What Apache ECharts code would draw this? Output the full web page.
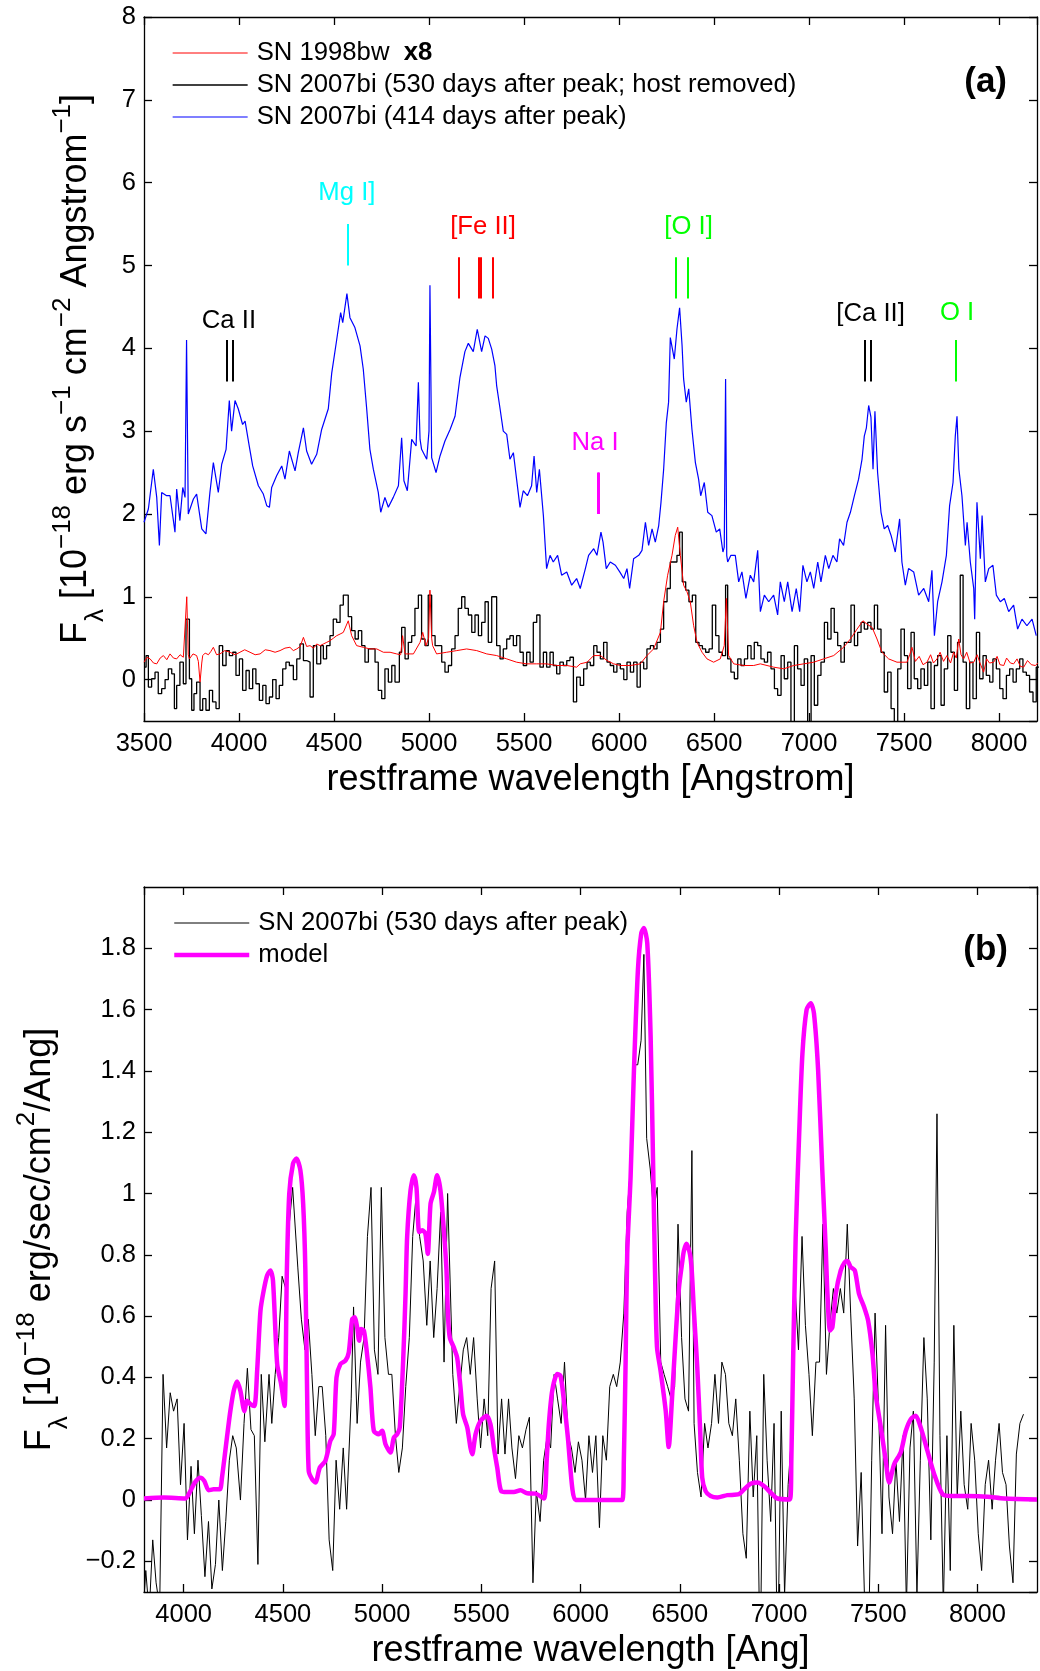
<!DOCTYPE html>
<html><head><meta charset="utf-8">
<script src="https://cdn.jsdelivr.net/npm/echarts@6/dist/echarts.min.js"></script>
<style>html,body{margin:0;padding:0;background:#fff}#c{width:1040px;height:1671px}</style>
</head><body><div id="c"></div>
<script>
const FONT = 'Liberation Sans, Arial, Helvetica, sans-serif';

// ---------- Panel (a): SN 2007bi, 414 days (blue) ----------
const blueWave = [3500,3523,3549,3567,3581,3593,3619,3637,3663,3672,3689,3704,3716,3724,3733,3742,3760,3777,3804,3826,3847,3865,3891,3909,3932,3949,3961,3979,3996,4019,4032,4054,4072,4102,4128,4146,4160,4172,4198,4225,4242,4265,4295,4312,4339,4356,4382,4409,4435,4470,4488,4514,4535,4546,4568,4584,4610,4637,4654,4672,4689,4707,4733,4746,4768,4786,4812,4839,4856,4868,4886,4909,4932,4944,4953,4961,4988,5000,5005,5014,5037,5058,5084,5111,5137,5163,5189,5207,5233,5254,5277,5295,5312,5330,5347,5356,5374,5391,5409,5426,5444,5461,5479,5496,5518,5540,5553,5567,5581,5602,5619,5637,5654,5677,5698,5725,5751,5777,5796,5823,5840,5867,5884,5905,5916,5933,5954,5981,6004,6025,6042,6056,6077,6104,6121,6139,6156,6174,6191,6209,6221,6235,6249,6261,6270,6291,6305,6319,6332,6340,6354,6367,6384,6402,6419,6430,6449,6467,6489,6512,6530,6547,6554,6561,6567,6572,6589,6612,6630,6647,6668,6691,6709,6730,6744,6765,6788,6814,6835,6849,6870,6888,6911,6933,6951,6968,6989,7007,7025,7046,7063,7086,7104,7126,7147,7161,7182,7200,7218,7239,7261,7279,7291,7302,7314,7326,7337,7347,7361,7379,7396,7414,7432,7454,7477,7489,7507,7524,7551,7577,7604,7630,7647,7660,7677,7700,7723,7740,7758,7770,7779,7789,7805,7823,7832,7849,7867,7872,7884,7902,7911,7928,7946,7968,7986,8007,8028,8051,8077,8098,8121,8147,8174,8196];
const blueFlux = [1.9,2.06,2.54,2.2,1.62,2.26,2.22,2.22,1.78,2.3,1.92,2.32,2.2,4.1,2.0,2.02,2.18,2.24,1.82,1.76,2.26,2.62,2.26,2.6,2.78,3.37,3.0,3.37,3.27,3.08,3.12,2.82,2.58,2.34,2.24,2.1,2.08,2.32,2.46,2.58,2.42,2.76,2.52,2.74,3.04,2.76,2.6,2.72,3.02,3.27,3.7,4.1,4.43,4.31,4.66,4.37,4.25,4.03,3.75,3.27,2.78,2.54,2.26,2.02,2.2,2.08,2.2,2.34,2.92,2.4,2.28,2.9,2.82,3.59,2.9,2.78,2.66,3.0,4.76,2.68,2.5,2.7,2.88,3.02,3.18,3.65,3.96,4.06,3.96,4.23,3.96,4.15,4.12,3.99,3.79,3.55,3.27,3.0,2.96,2.66,2.74,2.42,2.08,2.28,2.22,2.34,2.7,2.26,2.54,1.98,1.34,1.5,1.42,1.5,1.26,1.3,1.14,1.22,1.1,1.34,1.5,1.58,1.5,1.78,1.66,1.34,1.42,1.38,1.3,1.22,1.34,1.1,1.46,1.5,1.56,1.9,1.62,1.82,1.66,1.86,2.14,2.54,3.1,3.35,4.13,3.87,4.23,4.49,4.03,3.63,3.35,3.51,3.02,2.62,2.42,2.22,2.38,2.02,1.98,1.78,1.82,1.54,1.6,3.63,1.5,1.42,1.5,1.5,1.18,1.3,0.98,1.26,1.18,1.56,0.82,1.02,0.94,1.02,0.78,1.18,0.94,1.18,0.82,1.1,0.82,1.38,1.18,1.3,1.1,1.42,1.18,1.5,1.34,1.5,1.42,1.7,1.62,1.9,2.02,2.22,2.42,2.66,2.94,3.04,3.31,3.17,2.54,3.24,2.5,2.02,1.82,1.86,1.74,1.54,1.94,1.42,1.14,1.34,1.3,1.02,1.1,0.94,1.32,0.53,0.94,1.18,1.5,2.1,2.38,2.94,3.18,2.54,2.22,1.62,1.9,1.42,1.1,0.73,2.14,1.46,1.98,1.18,1.34,1.38,1.02,0.94,0.98,0.82,0.9,0.61,0.73,0.65,0.73,0.53];

// ---------- SN 1998bw x8 (red) ----------
const redWave = [3500,3516,3532,3550,3567,3585,3602,3620,3637,3655,3672,3690,3707,3725,3733,3739,3758,3777,3786,3795,3804,3809,3822,3839,3852,3865,3882,3900,3925,3953,3980,4005,4030,4058,4085,4111,4138,4163,4190,4216,4242,4268,4286,4304,4322,4339,4356,4374,4392,4409,4427,4444,4462,4479,4497,4514,4532,4549,4575,4593,4619,4654,4689,4725,4760,4795,4830,4851,4861,4874,4918,4953,4967,4984,4998,5005,5014,5019,5040,5093,5146,5198,5251,5304,5356,5409,5461,5514,5567,5619,5672,5725,5777,5796,5832,5867,5902,5937,5972,6007,6060,6112,6147,6182,6218,6235,6256,6279,6296,6309,6323,6340,6358,6375,6393,6411,6437,6463,6498,6533,6554,6565,6577,6604,6656,6709,6744,6779,6814,6867,6919,6972,7025,7077,7130,7182,7218,7253,7284,7305,7332,7358,7384,7419,7463,7516,7530,7542,7560,7580,7600,7621,7640,7655,7674,7690,7708,7726,7745,7761,7775,7788,7800,7814,7830,7848,7867,7885,7900,7919,7935,7950,7972,7990,8005,8025,8040,8060,8077,8095,8112,8130,8150,8170,8191,8205];
const redFlux = [0.21,0.27,0.25,0.2,0.19,0.26,0.29,0.24,0.31,0.26,0.25,0.3,0.27,1.0,0.3,0.25,0.31,0.29,0.22,-0.03,0.2,0.29,0.32,0.3,0.34,0.39,0.3,0.31,0.35,0.33,0.3,0.33,0.36,0.33,0.3,0.31,0.36,0.35,0.33,0.35,0.38,0.39,0.35,0.37,0.4,0.51,0.4,0.41,0.38,0.43,0.41,0.43,0.45,0.47,0.5,0.53,0.55,0.57,0.71,0.53,0.41,0.39,0.37,0.37,0.33,0.33,0.31,0.3,0.53,0.31,0.31,0.45,0.57,0.41,0.5,1.08,0.5,0.41,0.31,0.33,0.35,0.37,0.35,0.31,0.29,0.25,0.21,0.19,0.19,0.19,0.17,0.17,0.15,0.19,0.21,0.29,0.29,0.23,0.19,0.17,0.17,0.19,0.29,0.37,0.57,0.94,1.26,1.5,1.74,1.84,1.5,1.14,1.06,0.94,0.65,0.45,0.33,0.25,0.21,0.25,0.41,0.98,0.29,0.19,0.17,0.17,0.19,0.17,0.15,0.13,0.17,0.19,0.21,0.25,0.29,0.39,0.49,0.61,0.71,0.67,0.63,0.49,0.33,0.25,0.21,0.21,0.3,0.39,0.22,0.28,0.18,0.21,0.3,0.2,0.25,0.33,0.22,0.29,0.2,0.33,0.26,0.49,0.3,0.25,0.33,0.2,0.21,0.3,0.2,0.09,0.25,0.2,0.21,0.28,0.18,0.17,0.26,0.2,0.19,0.25,0.16,0.15,0.23,0.18,0.17,0.2];

// ---------- SN 2007bi, 530 days (black; binned) ----------
const blackWave = [3500,3511,3523,3540,3558,3575,3593,3611,3628,3646,3660,3672,3689,3707,3721,3739,3751,3763,3777,3795,3809,3826,3844,3861,3879,3896,3914,3932,3949,3967,3984,4002,4019,4037,4054,4072,4089,4107,4125,4142,4160,4177,4195,4212,4230,4247,4265,4286,4304,4321,4339,4356,4374,4391,4409,4430,4444,4461,4479,4496,4514,4532,4549,4575,4593,4611,4628,4646,4663,4681,4698,4716,4733,4751,4768,4786,4804,4821,4844,4856,4874,4891,4909,4926,4944,4961,4979,4996,5014,5032,5049,5067,5084,5102,5119,5137,5154,5172,5189,5207,5225,5242,5260,5277,5295,5312,5330,5356,5374,5391,5409,5426,5444,5461,5479,5496,5514,5532,5549,5567,5584,5602,5619,5637,5654,5672,5689,5707,5725,5742,5760,5777,5796,5814,5832,5849,5867,5884,5902,5919,5937,5954,5972,5989,6007,6025,6042,6060,6077,6095,6112,6130,6147,6165,6182,6200,6218,6235,6253,6270,6288,6305,6319,6333,6351,6368,6386,6404,6421,6439,6456,6474,6491,6509,6526,6544,6561,6572,6589,6607,6625,6642,6660,6677,6695,6712,6730,6747,6765,6782,6800,6818,6835,6853,6870,6888,6905,6923,6940,6958,6975,6993,7011,7028,7046,7063,7081,7098,7116,7133,7151,7168,7186,7204,7221,7239,7256,7274,7291,7309,7326,7344,7361,7379,7396,7414,7432,7449,7467,7484,7502,7519,7537,7554,7572,7589,7607,7625,7642,7660,7677,7695,7712,7730,7747,7765,7782,7796,7811,7828,7846,7863,7881,7898,7916,7933,7951,7968,7986,8004,8021,8039,8056,8074,8091,8109,8126,8144,8161,8179,8196,8214,8232];
const blackFlux = [0.15,0.29,-0.09,0.01,0.09,-0.17,-0.11,0,0.13,0.07,-0.35,-0.07,0.21,-0.05,0.73,0.01,-0.37,-0.17,-0.03,-0.37,-0.23,-0.37,-0.13,-0.27,-0.35,0.41,0.17,0.35,0.29,0.33,0.05,0.25,-0.13,0.11,-0.11,0.13,-0.05,-0.25,-0.07,-0.29,-0.21,0,-0.23,-0.07,0.13,0.21,0.17,0,0.25,0.43,0.23,0.21,-0.21,0.41,0.19,0.41,0.25,0.41,0.53,0.73,0.69,0.9,1.02,0.76,0.59,0.49,0.59,0.41,0.21,0.37,0.37,0.21,-0.13,-0.23,0.13,-0.03,0.17,-0.03,0.33,0.63,0.25,0.45,0.53,0.86,1.02,0.49,0.41,1.02,0.53,0.41,0.41,0.21,0.09,0.17,0.37,0.53,0.86,1.0,0.86,0.78,0.57,0.78,0.53,0.69,0.94,0.45,1.0,0.41,0.25,0.37,0.49,0.53,0.41,0.53,0.33,0.17,0.33,0.21,0.69,0.78,0.15,0.33,0.15,0.33,0.17,0.07,0.21,0.17,0.23,0.27,-0.27,0.03,-0.07,0.13,0.21,0.17,0.41,0.33,0.25,0.45,0.21,0.17,0.09,0.19,0.13,0,0.21,0.09,0.21,-0.09,0.21,0.13,0.37,0.41,0.37,0.45,0.61,0.94,1.1,1.42,1.42,1.5,1.78,1.18,1.08,0.94,1.02,0.45,0.41,0.37,0.33,0.37,0.9,0.53,0.33,0.29,1.14,0.25,0.09,0.01,0.25,0.17,0.25,0.41,0.25,0.45,0.41,0.25,0.21,0.33,0.13,-0.11,-0.19,0.29,0.01,0.21,-0.55,0.41,0.13,-0.07,0.25,-0.55,0.29,-0.31,0.05,0.21,0.69,0.49,0.86,0.57,0.41,0.21,0.45,0.45,0.9,0.41,0.57,0.69,0.61,0.69,0.61,0.9,0.61,0.33,-0.15,0.09,-0.35,-0.55,0.13,0.61,0.29,-0.11,0.57,0.01,-0.11,0.13,-0.07,0.21,-0.35,0.17,0.29,-0.31,0.13,0.53,0.33,-0.13,0.45,1.26,0.21,-0.35,0.21,-0.23,0.57,0.01,0.29,0.05,-0.03,0.25,0.13,-0.11,-0.23,0.05,0.13,-0.03,0.13,0.25,0.09,0.05,-0.15,-0.27,0.15,0.25,0.28];

// ---------- Panel (b): model (magenta) ----------
const modelWave = [3800,3900,4008,4034,4059,4084,4104,4126,4151,4182,4193,4218,4235,4252,4269,4286,4306,4319,4336,4356,4370,4387,4403,4420,4437,4450,4471,4491,4508,4520,4532,4551,4568,4588,4602,4613,4622,4630,4647,4664,4686,4714,4739,4756,4770,4790,4815,4832,4849,4861,4874,4884,4894,4908,4924,4941,4958,4983,5000,5017,5042,5059,5076,5089,5106,5118,5126,5143,5160,5173,5187,5202,5218,5230,5244,5261,5277,5294,5311,5324,5332,5341,5361,5378,5395,5408,5429,5445,5454,5471,5496,5526,5546,5563,5580,5600,5630,5664,5697,5731,5773,5815,5829,5840,5857,5882,5899,5916,5936,5958,5975,6050,6210,6218,6227,6235,6252,6269,6289,6306,6319,6336,6353,6366,6375,6385,6403,6429,6444,6462,6479,6496,6513,6521,6534,6551,6560,6571,6588,6602,6613,6630,6655,6689,6739,6798,6824,6857,6891,6924,6958,6992,7055,7062,7071,7084,7101,7118,7139,7160,7176,7197,7218,7235,7244,7257,7269,7286,7311,7331,7345,7361,7382,7403,7429,7449,7471,7487,7513,7538,7555,7580,7613,7639,7664,7689,7714,7748,7782,7824,7866,7950,8050,8134,8300];
const modelFlux = [0.005,0.008,0.005,0.03,0.06,0.073,0.062,0.032,0.035,0.035,0.073,0.204,0.29,0.356,0.387,0.356,0.29,0.324,0.313,0.307,0.42,0.618,0.683,0.732,0.749,0.716,0.444,0.378,0.307,0.75,1.0,1.098,1.114,1.076,0.967,0.754,0.35,0.095,0.068,0.057,0.106,0.128,0.193,0.215,0.4,0.444,0.455,0.482,0.59,0.596,0.564,0.52,0.558,0.553,0.476,0.367,0.226,0.215,0.226,0.182,0.155,0.204,0.215,0.237,0.455,0.673,0.858,1.01,1.06,1.02,0.874,0.88,0.869,0.803,0.967,1.005,1.06,1.01,0.88,0.754,0.6,0.53,0.498,0.465,0.367,0.28,0.237,0.171,0.149,0.215,0.258,0.275,0.247,0.171,0.106,0.029,0.026,0.026,0.032,0.022,0.021,0.005,0.128,0.247,0.356,0.411,0.405,0.324,0.204,0.04,0,0,0,0.128,0.455,0.803,1.054,1.403,1.73,1.85,1.866,1.817,1.512,1.076,0.754,0.5,0.422,0.291,0.173,0.346,0.531,0.694,0.78,0.814,0.836,0.803,0.75,0.618,0.433,0.237,0.073,0.029,0.013,0.008,0.016,0.019,0.035,0.053,0.057,0.046,0.024,0.005,0.002,0.128,0.455,0.858,1.185,1.457,1.6,1.621,1.588,1.403,1.076,0.825,0.673,0.553,0.564,0.673,0.749,0.776,0.78,0.76,0.749,0.673,0.629,0.585,0.476,0.346,0.237,0.128,0.057,0.117,0.155,0.226,0.264,0.275,0.237,0.16,0.084,0.019,0.013,0.013,0.011,0.005,0.002];

// ---------- line identifications (panel a) ----------
const markerWave = [3934,3968,4571,5159,5262,5273,5333,5890,5896,6300,6364,7291,7324,7774];
const markerLow  = [3.6,3.6,5.0,4.6,4.6,4.6,4.6,2.0,2.0,4.6,4.6,3.6,3.6,3.6];
const markerHigh = [4.1,4.1,5.5,5.1,5.1,5.1,5.1,2.5,2.5,5.1,5.1,4.1,4.1,4.1];
const markerIon  = [0,0,1,2,2,2,2,3,3,4,4,5,5,6];
const ionLabels  = ['Ca II','Mg I]','[Fe II]','Na I','[O I]','[Ca II]','O I'];
const ionLabelWave = [3947,4568,5284,5874,6366,7324,7779];
const ionLabelFlux = [4.33,5.88,5.47,2.86,5.47,4.41,4.43];
const ionColors = ['#000000','#00ffff','#ff0000','#ff00ff','#00ff00','#000000','#00ff00'];

const zip = (a, b) => a.map((v, i) => [v, b[i]]);

const axisLineStyle = {color: '#000', width: 1.3};
function xAxisDef(grid, min, max, pos, name, showMin) {
  const show = pos === 'bottom';
  return {
    gridIndex: grid, type: 'value', min: min, max: max, position: pos,
    minInterval: 500, maxInterval: 500,
    axisLine: {show: true, onZero: false, lineStyle: axisLineStyle},
    axisTick: {show: true, inside: true, length: 8, lineStyle: axisLineStyle},
    splitLine: {show: false},
    axisLabel: {show: show, fontSize: 25.5, color: '#000', fontFamily: FONT, margin: 10,
                showMinLabel: showMin, showMaxLabel: false, formatter: v => String(Math.round(v))},
    name: show ? name : '', nameLocation: 'middle', nameGap: 41,
    nameTextStyle: {fontSize: 36, color: '#000', fontFamily: FONT}
  };
}
const richName = {
  m: {fontSize: 36, fontFamily: FONT, color: '#000', verticalAlign: 'top', padding: [8, 0, 0, 0]},
  p: {fontSize: 26, fontFamily: FONT, color: '#000', verticalAlign: 'top', padding: [0, 0, 0, 0]},
  s: {fontSize: 26, fontFamily: FONT, color: '#000', verticalAlign: 'top', padding: [33, 0, 0, 0]}
};
function yAxisDef(grid, min, max, step, pos, name, gap) {
  const show = pos === 'left';
  return {
    gridIndex: grid, type: 'value', min: min, max: max, position: pos,
    minInterval: step, maxInterval: step,
    axisLine: {show: true, onZero: false, lineStyle: axisLineStyle},
    axisTick: {show: true, inside: true, length: 8, lineStyle: axisLineStyle},
    splitLine: {show: false},
    axisLabel: {show: show, fontSize: 25.5, color: '#000', fontFamily: FONT, margin: 8,
                showMinLabel: false, showMaxLabel: grid === 0,
                formatter: v => String(Math.round(v * 10) / 10).replace('-', '\u2212')},
    name: show ? name : '', nameLocation: 'middle', nameGap: gap,
    nameTextStyle: {fontSize: 36, lineHeight: 60, color: '#000', fontFamily: FONT, rich: richName}
  };
}

const nameA = '{m|F}{s|\u03bb}{m| [10}{p|\u221218}{m| erg s}{p|\u22121}{m| cm}{p|\u22122}{m| Angstrom}{p|\u22121}{m|]}';
const nameB = '{m|F}{s|\u03bb}{m| [10}{p|\u221218}{m| erg/sec/cm}{p|2}{m|/Ang]}';

const legendCommon = {
  orient: 'vertical', left: 172, padding: 0, itemWidth: 75, itemHeight: 12, itemGap: 6,
  selectedMode: false, itemStyle: {opacity: 0}, lineStyle: {width: 'inherit'},
  textStyle: {fontSize: 25.7, lineHeight: 26, color: '#000', fontFamily: FONT, padding: [0, 0, 0, 4],
              rich: {b: {fontSize: 25.7, fontWeight: 'bold', color: '#000', fontFamily: FONT}}}
};

const option = {
  animation: false,
  backgroundColor: '#fff',
  grid: [
    {left: 144, right: 3, top: 17, height: 704},
    {left: 144, right: 3, top: 887, height: 705}
  ],
  xAxis: [
    xAxisDef(0, 3500, 8200, 'bottom', 'restframe wavelength [Angstrom]', true),
    xAxisDef(0, 3500, 8200, 'top', '', true),
    xAxisDef(1, 3800, 8300, 'bottom', 'restframe wavelength [Ang]', false),
    xAxisDef(1, 3800, 8300, 'top', '', false)
  ],
  yAxis: [
    yAxisDef(0, -0.5, 8, 1, 'left', nameA, 34),
    yAxisDef(0, -0.5, 8, 1, 'right', '', 0),
    yAxisDef(1, -0.3, 2, 0.2, 'left', nameB, 70),
    yAxisDef(1, -0.3, 2, 0.2, 'right', '', 0)
  ],
  legend: [
    Object.assign({}, legendCommon, {
      top: 40,
      data: ['SN 1998bw', 'SN 2007bi (530 days after peak; host removed)', 'SN 2007bi (414 days after peak)'],
      formatter: n => n === 'SN 1998bw' ? 'SN 1998bw  {b|x8}' : n
    }),
    Object.assign({}, legendCommon, {
      top: 910,
      data: ['SN 2007bi (530 days after peak)', 'model']
    })
  ],
  graphic: [
    {type: 'text', x: 1007, y: 82, style: {text: '(a)', fontSize: 35, fontWeight: 'bold', fontFamily: FONT, fill: '#000', align: 'right', verticalAlign: 'middle'}},
    {type: 'text', x: 1008, y: 950, style: {text: '(b)', fontSize: 35, fontWeight: 'bold', fontFamily: FONT, fill: '#000', align: 'right', verticalAlign: 'middle'}}
  ],
  series: [
    {
      name: 'SN 2007bi (414 days after peak)', type: 'line', xAxisIndex: 0, yAxisIndex: 0,
      data: zip(blueWave, blueFlux), symbol: 'none', lineStyle: {color: '#0000ff', width: 1.2},
      itemStyle: {color: '#0000ff'}, silent: true, z: 2,
      markLine: {
        silent: true, symbol: ['none', 'none'], label: {show: false}, animation: false,
        lineStyle: {type: 'solid', width: 2},
        emphasis: {disabled: true},
        data: markerWave.map((w, i) => [
          {coord: [w, markerLow[i]], lineStyle: {color: ionColors[markerIon[i]], width: 2, type: 'solid'}},
          {coord: [w, markerHigh[i]]}
        ])
      }
    },
    {
      name: 'SN 2007bi (530 days after peak; host removed)', type: 'line', step: 'end',
      xAxisIndex: 0, yAxisIndex: 0, data: zip(blackWave, blackFlux), symbol: 'none',
      lineStyle: {color: '#000', width: 1.3}, itemStyle: {color: '#000'}, silent: true, z: 3
    },
    {
      name: 'SN 1998bw', type: 'line', xAxisIndex: 0, yAxisIndex: 0,
      data: zip(redWave, redFlux), symbol: 'none', lineStyle: {color: '#ff0000', width: 1},
      itemStyle: {color: '#ff0000'}, silent: true, z: 4
    },
    {
      name: 'ions', type: 'scatter', xAxisIndex: 0, yAxisIndex: 0, symbolSize: 2,
      itemStyle: {color: 'rgba(0,0,0,0)'}, silent: true, z: 5,
      label: {show: true, position: 'inside', formatter: '{b}', fontSize: 25.7, fontFamily: FONT, opacity: 1},
      data: ionLabels.map((t, i) => ({name: t, value: [ionLabelWave[i], ionLabelFlux[i]],
        label: {color: ionColors[i]}}))
    },
    {
      name: 'SN 2007bi (530 days after peak)', type: 'line', xAxisIndex: 2, yAxisIndex: 2,
      data: zip(blackWave, blackFlux), symbol: 'none', lineStyle: {color: '#000', width: 1},
      itemStyle: {color: '#000'}, silent: true, z: 2
    },
    {
      name: 'model', type: 'line', xAxisIndex: 2, yAxisIndex: 2, smooth: 0.25,
      data: zip(modelWave, modelFlux), symbol: 'none', lineStyle: {color: '#ff00ff', width: 4.5},
      itemStyle: {color: '#ff00ff'}, silent: true, z: 3
    }
  ]
};

const chart = echarts.init(document.getElementById('c'), null, {renderer: 'canvas'});
chart.setOption(option);
</script></body></html>
